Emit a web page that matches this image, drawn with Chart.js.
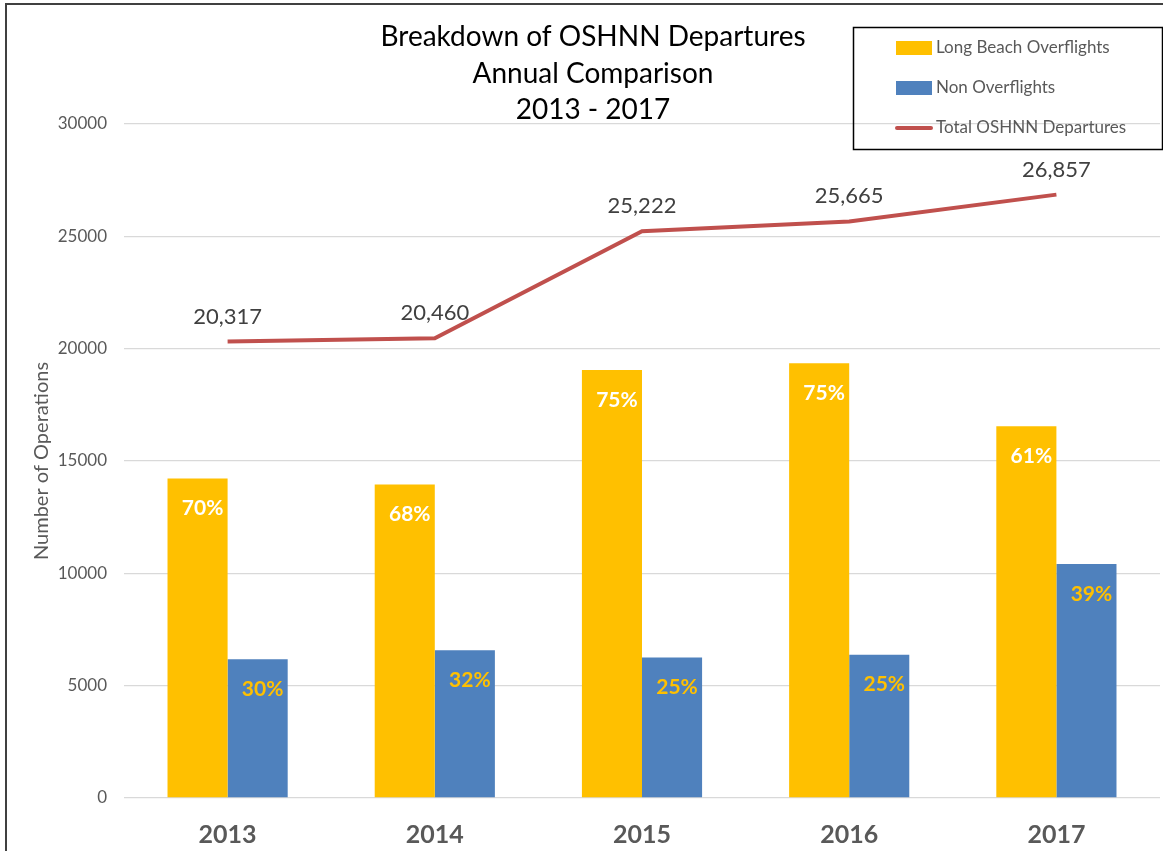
<!DOCTYPE html>
<html>
<head>
<meta charset="UTF-8">
<title>OSHNN Departures</title>
<script src="https://cdn.jsdelivr.net/npm/chart.js@4"></script>
<style>
    body { margin: 0; background: #fff; }
    #wrap { width: 1163px; height: 851px; }
</style>
</head>
<body>
<div id="wrap"><canvas id="chart" width="1163" height="851"></canvas></div>
<script>
// data
const years = ['2013', '2014', '2015', '2016', '2017'];
const overflights = [14220, 13950, 19050, 19350, 16550];
const nonOverflights = [6180, 6580, 6250, 6380, 10420];
const totals = [20317, 20460, 25222, 25665, 26857];
const overPct = ['70%', '68%', '75%', '75%', '61%'];
const nonPct = ['30%', '32%', '25%', '25%', '39%'];
const titleLines = ['Breakdown of OSHNN Departures', 'Annual Comparison', '2013 - 2017'];

const FONT = 'Lato, "Open Sans", sans-serif';
const YELLOW = '#FFC000';
const BLUE = '#4F81BD';
const RED = '#C0504D';

const decorPlugin = {
    id: 'decor',
    beforeDraw(chart) {
        const ctx = chart.ctx;
        ctx.save();
        ctx.fillStyle = '#fff';
        ctx.fillRect(0, 0, chart.width, chart.height);
        // outer frame (left + top edges visible)
        ctx.strokeStyle = '#404040';
        ctx.lineWidth = 2;
        ctx.beginPath();
        ctx.moveTo(6, chart.height);
        ctx.lineTo(6, 4);
        ctx.lineTo(chart.width, 4);
        ctx.stroke();
        ctx.restore();
    },
    afterDatasetsDraw(chart) {
        const ctx = chart.ctx;
        ctx.save();
        // percentage labels inside the bars
        ctx.font = 'bold 21px ' + FONT;
        ctx.textAlign = 'center';
        ctx.textBaseline = 'middle';
        [[0, overPct, '#FFFFFF'], [1, nonPct, YELLOW]].forEach(([di, labels, color]) => {
            chart.getDatasetMeta(di).data.forEach((bar, i) => {
                ctx.fillStyle = color;
                ctx.fillText(labels[i], bar.x + 5, bar.y + 30);
            });
        });
        // totals above the line points
        ctx.font = '22px ' + FONT;
        ctx.fillStyle = '#404040';
        chart.getDatasetMeta(2).data.forEach((pt, i) => {
            ctx.fillText(totals[i].toLocaleString('en-US'), pt.x, pt.y - 25);
        });
        ctx.restore();
    },
    afterDraw(chart) {
        const ctx = chart.ctx;
        ctx.save();
        // title
        ctx.fillStyle = '#000';
        ctx.font = '28px ' + FONT;
        ctx.textAlign = 'center';
        ctx.textBaseline = 'middle';
        titleLines.forEach((t, i) => ctx.fillText(t, 593, 37 + i * 36.5));
        // legend box
        ctx.strokeStyle = '#000';
        ctx.lineWidth = 1.5;
        ctx.strokeRect(853.5, 27.5, 309, 122);
        ctx.font = '17px ' + FONT;
        ctx.textAlign = 'left';
        const rows = [48, 88, 128];
        chart.data.datasets.forEach((ds, i) => {
            const y = rows[i];
            if (ds.type === 'line') {
                ctx.strokeStyle = ds.borderColor;
                ctx.lineWidth = 4;
                ctx.lineCap = 'round';
                ctx.beginPath();
                ctx.moveTo(897, y);
                ctx.lineTo(931, y);
                ctx.stroke();
            } else {
                ctx.fillStyle = ds.backgroundColor;
                ctx.fillRect(896, y - 7, 36, 14);
            }
            ctx.fillStyle = '#595959';
            ctx.fillText(ds.label, 936, y);
        });
        ctx.restore();
    }
};

new Chart(document.getElementById('chart'), {
    type: 'bar',
    data: {
        labels: years,
        datasets: [
            {
                type: 'bar',
                label: 'Long Beach Overflights',
                data: overflights,
                backgroundColor: YELLOW,
                categoryPercentage: 0.58,
                barPercentage: 1.0,
                order: 2
            },
            {
                type: 'bar',
                label: 'Non Overflights',
                data: nonOverflights,
                backgroundColor: BLUE,
                categoryPercentage: 0.58,
                barPercentage: 1.0,
                order: 2
            },
            {
                type: 'line',
                label: 'Total OSHNN Departures',
                data: totals,
                borderColor: RED,
                backgroundColor: RED,
                borderWidth: 4,
                pointRadius: 0,
                tension: 0,
                fill: false,
                order: 1
            }
        ]
    },
    options: {
        responsive: false,
        animation: false,
        layout: { padding: { top: 124, left: 0, right: 3, bottom: 0 } },
        plugins: {
            legend: { display: false },
            title: { display: false },
            tooltip: { enabled: false }
        },
        scales: {
            x: {
                grid: { display: false, drawTicks: false },
                border: { display: false },
                ticks: { color: '#595959', font: { family: FONT, size: 25, weight: 'bold' }, padding: 22 },
                afterFit(scale) { scale.height = 53; }
            },
            y: {
                min: 0,
                max: 30000,
                ticks: {
                    stepSize: 5000,
                    color: '#595959',
                    font: { family: FONT, size: 17 },
                    padding: 17,
                    callback: v => String(v)
                },
                grid: { color: '#D9D9D9', lineWidth: 1.3, drawTicks: false },
                border: { display: false },
                title: {
                    display: true,
                    text: 'Number of Operations',
                    color: '#595959',
                    font: { family: FONT, size: 20 },
                    padding: { top: 30, bottom: 0 }
                },
                afterFit(scale) { scale.width = 124; }
            }
        }
    },
    plugins: [decorPlugin]
});
</script>
</body>
</html>
